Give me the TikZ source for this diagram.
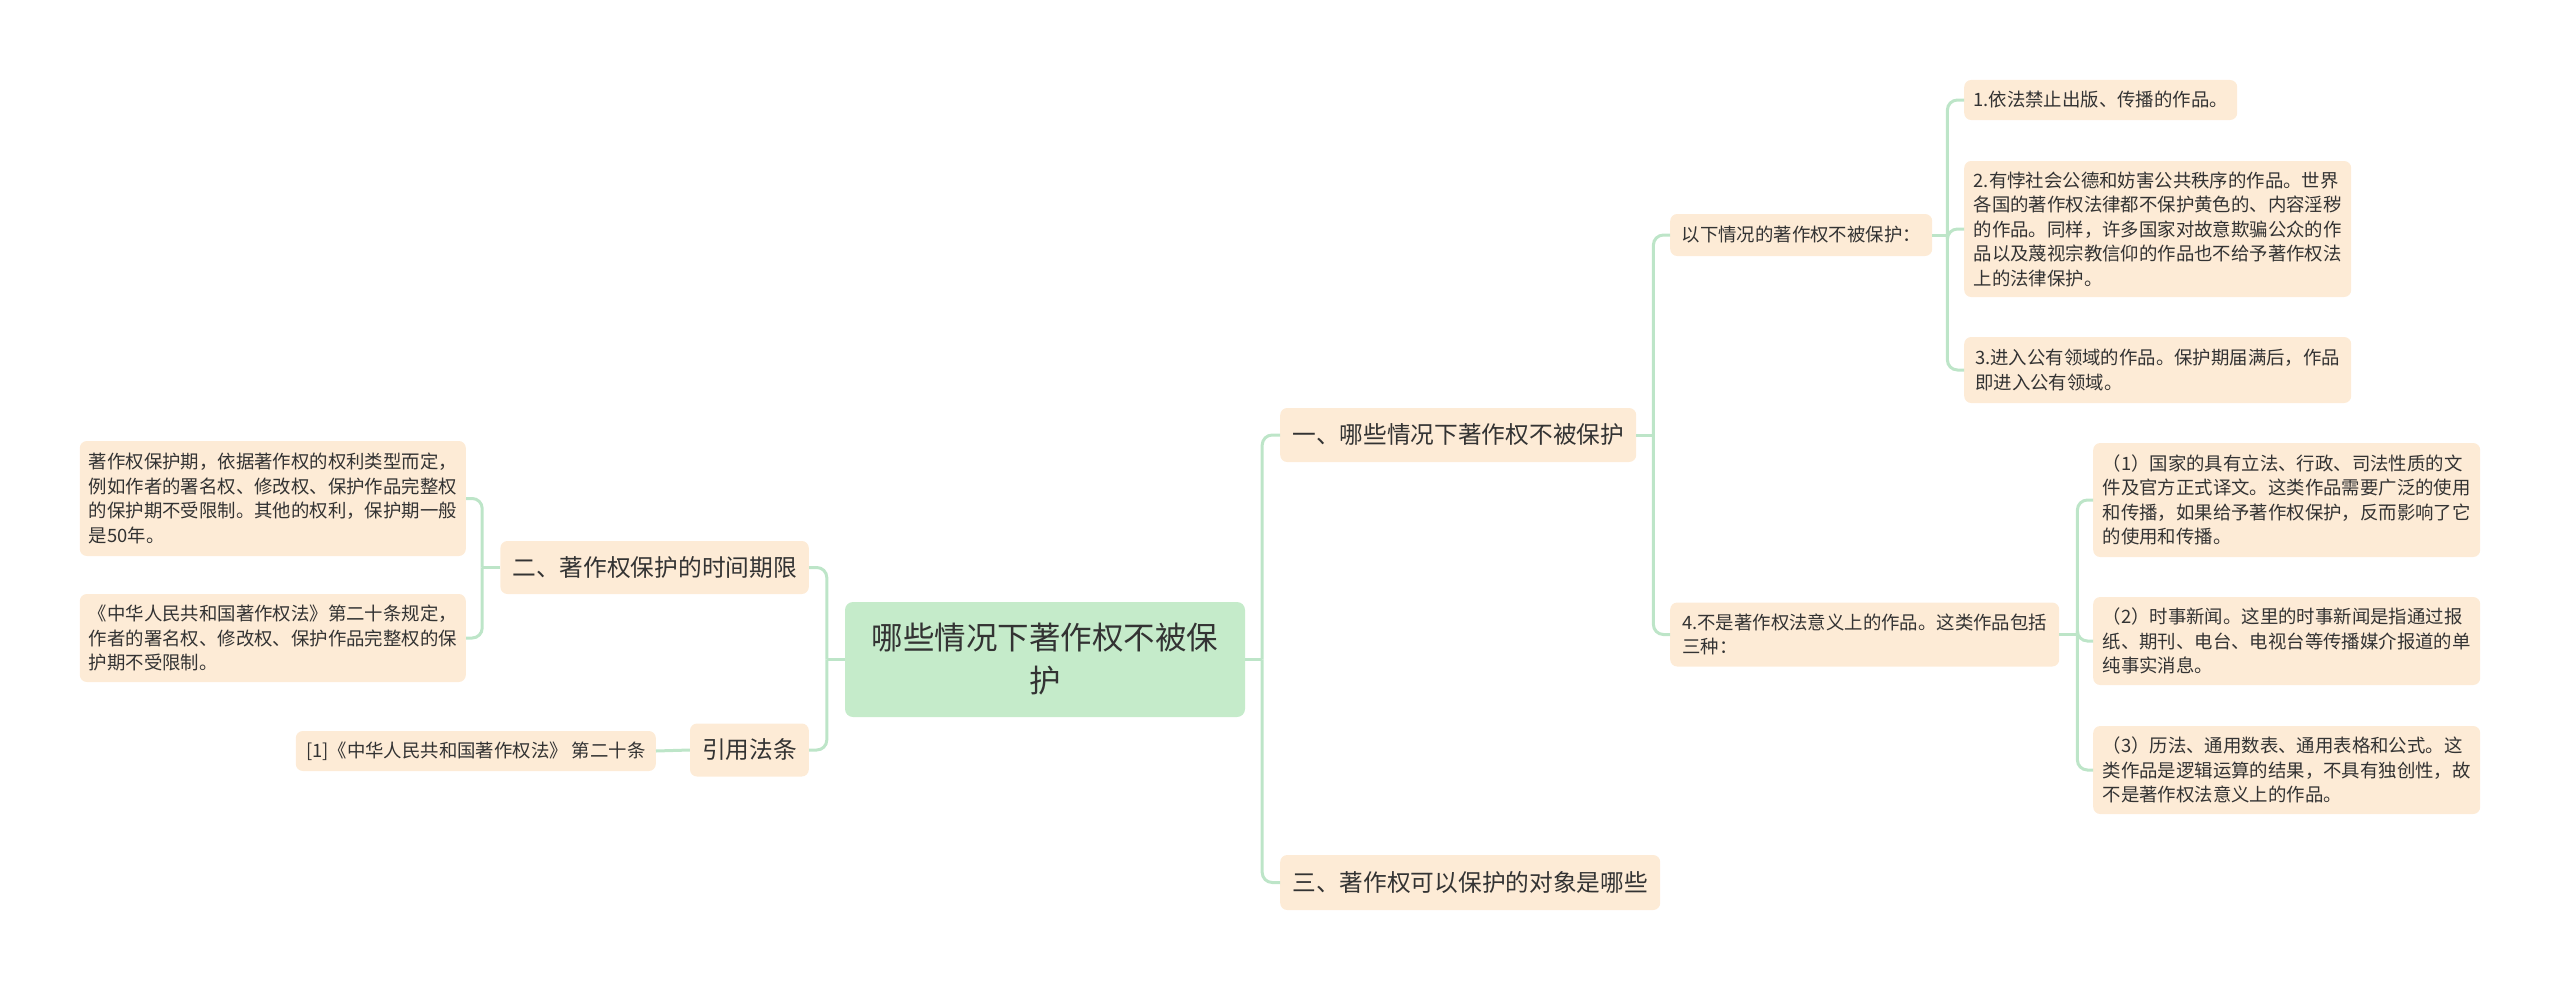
\documentclass[tikz,border=0pt]{standalone}
\usepackage{fontspec}
\setmainfont{Noto Sans CJK SC}
\usepackage{tikz}
\usetikzlibrary{positioning}
\definecolor{leafc}{HTML}{FDEBD6}
\definecolor{rootc}{HTML}{C5EBCA}
\definecolor{linec}{HTML}{BDE5C8}
\definecolor{txtc}{HTML}{333333}

\begin{document}
\begin{tikzpicture}[x=1pt, y=-1pt,
    box/.style={fill=leafc, rounded corners=7pt, inner xsep=9pt, inner ysep=4pt, text=txtc, align=left,
        font=\fontsize{18.4}{24.5}\selectfont},
    branch/.style={box, inner xsep=12pt, font=\fontsize{23.7}{30}\selectfont},
    link/.style={draw=linec, line width=3pt, rounded corners=10pt}]
    \useasboundingbox (0,0) rectangle (2560,990);

    % centre
    \node[box, fill=rootc, rounded corners=8pt, minimum width=400pt, minimum height=115pt, align=center,
        font=\fontsize{31.5}{43}\selectfont] (root) at (1045,659.5) {哪些情况下著作权不被保\\护};

    % main branches
    \node[branch, anchor=west, minimum width=356pt, minimum height=54pt] (one) at (1280,435) {一、哪些情况下著作权不被保护};
    \node[branch, anchor=west, minimum width=380pt, minimum height=55pt] (three) at (1280,882.5) {三、著作权可以保护的对象是哪些};
    \node[branch, anchor=east, minimum width=307pt, minimum height=53pt] (two) at (809,567.5) {二、著作权保护的时间期限};
    \node[branch, anchor=east, minimum width=117pt, minimum height=53pt] (cite) at (809,750) {引用法条};

    % right side
    \node[box, anchor=west, minimum width=262pt, minimum height=42pt] (sub1) at (1670,235) {以下情况的著作权不被保护：};
    \node[box, anchor=west, minimum width=389pt, minimum height=64pt] (sub4) at (1670,634.5)
        {4.不是著作权法意义上的作品。这类作品包括\\三种：};

    \node[box, anchor=west, minimum width=273pt, minimum height=40pt] (s1) at (1964,100) {1.依法禁止出版、传播的作品。};
    \node[box, anchor=west, minimum width=387pt, minimum height=136pt] (s2) at (1964,229)
        {2.有悖社会公德和妨害公共秩序的作品。世界\\各国的著作权法律都不保护黄色的、内容淫秽\\的作品。同样，许多国家对故意欺骗公众的作\\品以及蔑视宗教信仰的作品也不给予著作权法\\上的法律保护。};
    \node[box, anchor=west, minimum width=387pt, minimum height=66pt] (s3) at (1964,370)
        {3.进入公有领域的作品。保护期届满后，作品\\即进入公有领域。};

    \node[box, anchor=west, minimum width=387pt, minimum height=114pt] (k1) at (2093,500)
        {（1）国家的具有立法、行政、司法性质的文\\件及官方正式译文。这类作品需要广泛的使用\\和传播，如果给予著作权保护，反而影响了它\\的使用和传播。};
    \node[box, anchor=west, minimum width=387pt, minimum height=88pt] (k2) at (2093,641)
        {（2）时事新闻。这里的时事新闻是指通过报\\纸、期刊、电台、电视台等传播媒介报道的单\\纯事实消息。};
    \node[box, anchor=west, minimum width=387pt, minimum height=88pt] (k3) at (2093,770)
        {（3）历法、通用数表、通用表格和公式。这\\类作品是逻辑运算的结果，不具有独创性，故\\不是著作权法意义上的作品。};

    % left side
    \node[box, anchor=east, minimum width=386pt, minimum height=115pt] (t1) at (466,498.5)
        {著作权保护期，依据著作权的权利类型而定，\\例如作者的署名权、修改权、保护作品完整权\\的保护期不受限制。其他的权利，保护期一般\\是50年。};
    \node[box, anchor=east, minimum width=386pt, minimum height=88pt] (t2) at (466,638)
        {《中华人民共和国著作权法》第二十条规定，\\作者的署名权、修改权、保护作品完整权的保\\护期不受限制。};
    \node[box, anchor=east, minimum width=360pt, minimum height=40pt] (law) at (656,751)
        {[1]《中华人民共和国著作权法》 第二十条};

    % connectors
    \path (root.east) ++(17,0) coordinate (rootR);
    \path (root.west) ++(-18,0) coordinate (rootL);
    \path (one.east) ++(17,0) coordinate (oneR);
    \path (sub1.east) ++(15,0) coordinate (sub1R);
    \path (sub4.east) ++(18,0) coordinate (sub4R);
    \path (two.west) ++(-18,0) coordinate (twoL);

    \draw[link] (root.east) -- (rootR);
    \foreach \c in {one,three} \draw[link] (rootR) |- (\c.west);
    \draw[link] (root.west) -- (rootL);
    \foreach \c in {two,cite} \draw[link] (rootL) |- (\c.east);

    \draw[link] (one.east) -- (oneR);
    \foreach \c in {sub1,sub4} \draw[link] (oneR) |- (\c.west);
    \draw[link] (sub1.east) -- (sub1R);
    \foreach \c in {s1,s2,s3} \draw[link] (sub1R) |- (\c.west);
    \draw[link] (sub4.east) -- (sub4R);
    \foreach \c in {k1,k2,k3} \draw[link] (sub4R) |- (\c.west);

    \draw[link] (two.west) -- (twoL);
    \foreach \c in {t1,t2} \draw[link] (twoL) |- (\c.east);
    \draw[link] (cite.west) -- (law.east);
\end{tikzpicture}
\end{document}
